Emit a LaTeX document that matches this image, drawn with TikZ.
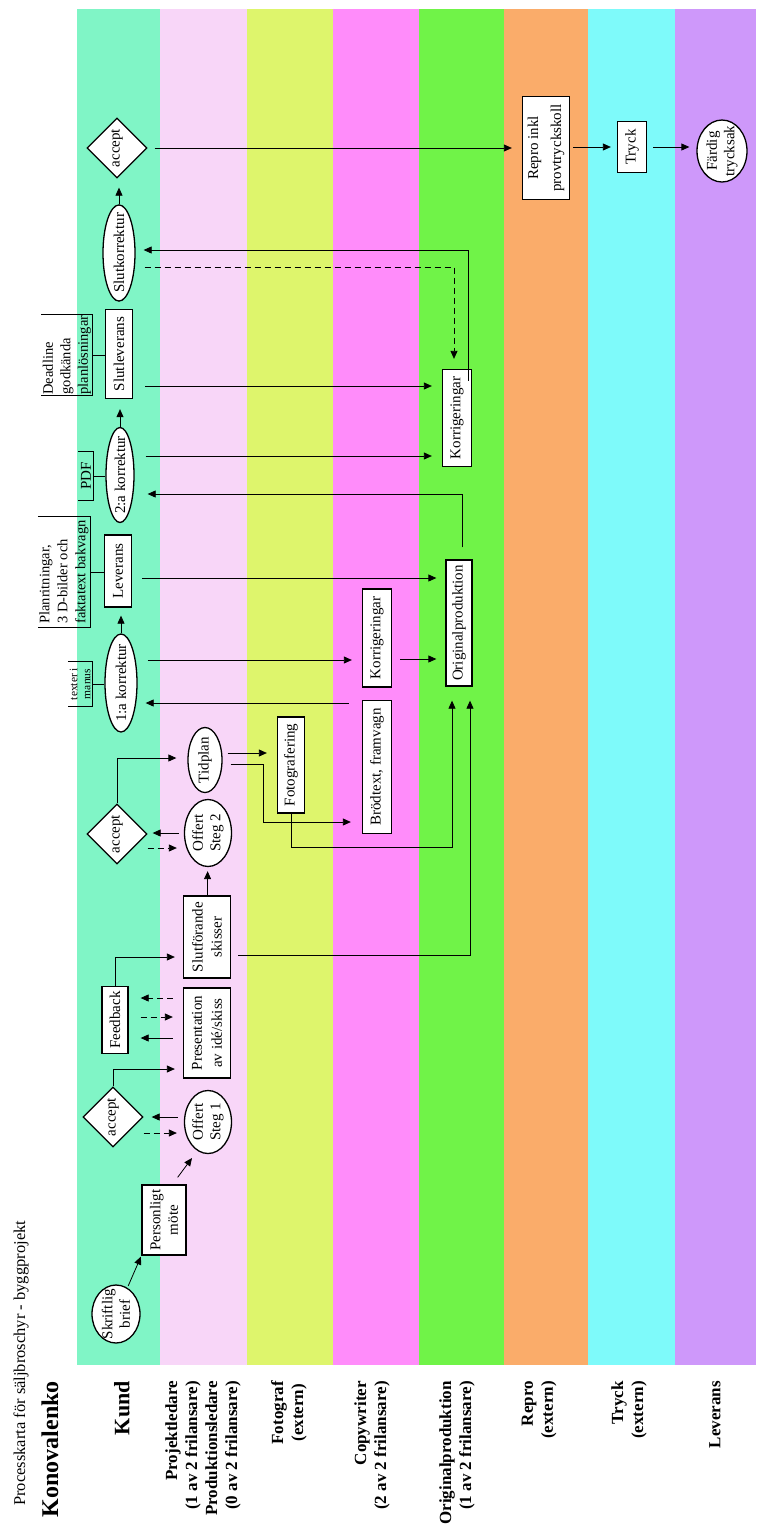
\documentclass[tikz,border=0pt]{standalone}
\usepackage{fontspec}
\setmainfont{Liberation Serif}
\usetikzlibrary{shapes.geometric, arrows.meta, calc}
\definecolor{cKund}{RGB}{128,245,198}
\definecolor{cProj}{RGB}{248,214,248}
\definecolor{cFoto}{RGB}{222,245,108}
\definecolor{cCopy}{RGB}{255,140,250}
\definecolor{cOrig}{RGB}{112,243,72}
\definecolor{cRepro}{RGB}{250,172,106}
\definecolor{cTryck}{RGB}{126,250,250}
\definecolor{cLev}{RGB}{206,152,250}
\newcommand\nodefnt{\fontsize{15}{17.5}\selectfont}
\newcommand\lanefnt{\bfseries\fontsize{17}{20}\selectfont}
\begin{document}
\begin{tikzpicture}[x=1pt,y=-1pt,
  nbox/.style={draw, line width=1.3pt, fill=white, rotate=90, inner sep=0pt, align=center, font=\nodefnt},
  nell/.style={ellipse, draw, line width=1.3pt, fill=white, rotate=90, inner sep=-6pt, align=center, font=\nodefnt},
  ndia/.style={diamond, draw, line width=1.3pt, fill=white, rotate=90, inner sep=0pt, align=center, font=\nodefnt},
  nnote/.style={rotate=90, inner sep=1pt, font=\nodefnt},
  brk/.style={line width=1pt},
  arr/.style={-{Triangle[length=8pt,width=7pt]}, line width=0.8pt},
  lnk/.style={line width=0.8pt},
  dsh/.style={dash pattern=on 6pt off 4pt},
  lanelab/.style={rotate=90, anchor=east, align=right, inner sep=0pt, font=\lanefnt},
]
\useasboundingbox (0,0) rectangle (756,1526);
\fill[white] (0,0) rectangle (756,1526);
% lanes
\fill[cKund]  (77,9)  rectangle (160,1365);
\fill[cProj]  (160,9) rectangle (247,1365);
\fill[cFoto]  (247,9) rectangle (333,1365);
\fill[cCopy]  (333,9) rectangle (419,1365);
\fill[cOrig]  (419,9) rectangle (504,1365);
\fill[cRepro] (504,9) rectangle (588,1365);
\fill[cTryck] (588,9) rectangle (675,1365);
\fill[cLev]   (675,9) rectangle (756,1365);
% titles and lane labels
\node[rotate=90, anchor=west, inner sep=0pt, font=\fontsize{16.5}{19}\selectfont] (title) at (21,1506) {Processkarta för säljbroschyr - byggprojekt};
\node[rotate=90, anchor=east, inner sep=0pt, font=\bfseries\fontsize{24}{28}\selectfont] (firm) at (50,1381) {Konovalenko};
\node[lanelab, font=\bfseries\fontsize{22}{26}\selectfont] (lKund) at (122,1381) {Kund};
\node[lanelab] (lProj) at (203,1381) {Projektledare\\(1 av 2 frilansare)\\Produktionsledare\\(0 av 2 frilansare)};
\node[lanelab, align=center] (lFoto) at (289,1381) {Fotograf\\(extern)};
\node[lanelab] (lCopy) at (372,1381) {Copywriter\\(2 av 2 frilansare)};
\node[lanelab] (lOrig) at (457,1381) {Originalproduktion\\(1 av 2 frilansare)};
\node[lanelab] (lRepro) at (539,1381) {Repro\\(extern)};
\node[lanelab] (lTryck) at (629,1381) {Tryck\\(extern)};
\node[lanelab] (lLev) at (715,1381) {Leverans};
% nodes
\node[nell, minimum width=58pt, minimum height=48pt] (brief) at (116,1314) {Skriftlig\\brief};
\node[nbox, minimum width=70pt, minimum height=44pt] (mote) at (164,1220) {Personligt\\möte};
\node[nell, minimum width=63pt, minimum height=47pt] (offert1) at (208,1122) {Offert\\Steg 1};
\node[ndia, minimum width=60pt, minimum height=60pt] (acc1) at (113,1117) {accept};
\node[nbox, minimum width=90pt, minimum height=47pt, font=\fontsize{15}{20}\selectfont] (pres) at (207,1033) {Presentation\\av idé/skiss};
\node[nbox, minimum width=67pt, minimum height=26pt] (feed) at (115,1020) {Feedback};
\node[nbox, minimum width=82pt, minimum height=47pt, font=\fontsize{15}{19}\selectfont] (slutf) at (207,937) {Slutförande\\skisser};
\node[nell, minimum width=67pt, minimum height=47pt] (offert2) at (208,833) {Offert\\Steg 2};
\node[ndia, minimum width=60pt, minimum height=60pt] (acc2) at (117,834) {accept};
\node[nell, minimum width=65pt, minimum height=34pt] (tid) at (205,760) {Tidplan};
\node[nbox, minimum width=96pt, minimum height=27pt] (foto) at (291,765) {Fotografering};
\node[nbox, minimum width=133pt, minimum height=29pt] (brod) at (377,767) {Brödtext, framvagn};
\node[nbox, minimum width=98pt, minimum height=29pt] (korr1) at (377,638) {Korrigeringar};
\node[nbox, minimum width=126pt, minimum height=26pt] (orig) at (459,623) {Originalproduktion};
\node[nell, minimum width=98pt, minimum height=32pt] (k1) at (121,683) {1:a korrektur};
\node[nbox, minimum width=72pt, minimum height=27pt] (lev) at (118,571) {Leverans};
\node[nell, minimum width=95pt, minimum height=28pt] (k2) at (120,475) {2:a korrektur};
\node[nbox, minimum width=89pt, minimum height=27pt] (slutlev) at (119,354) {Slutleverans};
\node[nbox, minimum width=97pt, minimum height=29pt] (korr2) at (457,418) {Korrigeringar};
\node[nell, minimum width=93pt, minimum height=32pt] (slutk) at (119,253) {Slutkorrektur};
\node[ndia, minimum width=60pt, minimum height=60pt] (acc3) at (117,148) {accept};
\node[nbox, minimum width=103pt, minimum height=47pt, font=\fontsize{15}{23}\selectfont] (repro) at (546,148) {Repro inkl\\provtryckskoll};
\node[nbox, minimum width=51pt, minimum height=29pt] (tryck) at (632,147) {Tryck};
\node[nell, minimum width=62pt, minimum height=50pt] (fardig) at (722,151) {Färdig\\trycksak};
% notes (brackets)
\node[nnote, align=center, font=\fontsize{11.5}{13}\selectfont, minimum width=45pt, minimum height=24pt] (texter) at (80,684) {texter i\\manus};
\node[nnote, align=left, minimum width=110pt, minimum height=52pt, font=\fontsize{14.5}{18}\selectfont] (plan) at (64,572) {Planritningar,\\3 D-bilder och\\faktatext bakvagn};
\node[nnote, align=center, minimum width=48pt, minimum height=15pt] (pdf) at (86,476) {PDF};
\node[nnote, align=left, minimum width=80pt, minimum height=51pt, font=\fontsize{14.5}{17.5}\selectfont] (deadline) at (67,355) {Deadline\\godkända\\planlösningar};
\foreach \n in {texter,plan,pdf,deadline}
  \draw[brk] (\n.north east) -- (\n.south east) -- (\n.south west) -- (\n.north west);
\draw[lnk] (texter.south) -- (k1.north |- texter.south);
\draw[lnk] (plan.south) -- (lev.north |- plan.south);
\draw[lnk] (pdf.south) -- (k2.north |- pdf.south);
\draw[lnk] (deadline.south) -- (slutlev.north |- deadline.south);
% connectors
\draw[arr, shorten <=2pt, shorten >=1pt] (brief) -- (mote.north west);
\draw[arr] ($(mote.south east)+(-9,-7)$) -- ($(offert1)+(-16,36)$);
\draw[arr, shorten <=6pt, shorten >=8pt] (offert1.north |- 0,1117) -- (acc1.south |- 0,1117);
\draw[arr, dsh, shorten >=7pt] (acc1.south |- 0,1133) -- (offert1.north |- 0,1133);
\draw[arr, shorten >=8pt] (acc1.east) |- (pres.north |- 0,1069);
\draw[arr, dsh, shorten <=10pt, shorten >=12pt] (pres.north |- 0,998) -- (feed.south |- 0,998);
\draw[arr, dsh, shorten <=12pt, shorten >=10pt] (feed.south |- 0,1017) -- (pres.north |- 0,1017);
\draw[arr, shorten <=10pt, shorten >=12pt] (pres.north |- 0,1038) -- (feed.south |- 0,1038);
\draw[arr, shorten >=8pt] (feed.east) |- (slutf.north |- 0,957);
\draw[arr, shorten >=4pt] (slutf) -- (offert2);
\draw[arr, shorten <=7pt, shorten >=14pt] (slutf.south |- 0,955) -| ($(orig.west)+(11,0)$);
\draw[arr, shorten <=5pt, shorten >=5pt] (offert2.north |- 0,833) -- (acc2.south |- 0,833);
\draw[arr, dsh, shorten >=7pt] (acc2.south |- 0,848) -- (offert2.north |- 0,848);
\draw[arr, shorten >=11pt] (acc2.east) |- (tid.north |- 0,758);
\draw[arr, shorten <=5pt, shorten >=10pt] (tid.south |- 0,753) -- (foto.north |- 0,753);
\draw[arr, shorten <=8pt, shorten >=11pt] (tid.south |- 0,764) -| (263,822) -- (brod.north |- 0,822);
\draw[arr, shorten >=14pt] (foto.west) |- (452,847) -- ($(orig.west)+(-7,0)$);
\draw[arr, shorten <=10pt, shorten >=10pt] (k1.south |- 0,660) -- (korr1.north |- 0,660);
\draw[arr, shorten <=13pt, shorten >=8pt] (brod.north |- 0,703) -- (k1.south |- 0,703);
\draw[arr, shorten <=8pt, shorten >=9pt] (korr1.south |- 0,659) -- (orig.north |- 0,659);
\draw[arr, shorten >=8pt] (k1.east) -- (k1.east |- lev.west);
\draw[arr, shorten <=10pt, shorten >=9pt] (lev.south |- 0,578) -- (orig.north |- 0,578);
\draw[arr, shorten <=12pt, shorten >=13pt] ($(orig.east)+(3,0)$) |- (k2.south |- 0,494);
\draw[arr, shorten <=11pt, shorten >=10pt] (k2.south |- 0,456) -- (korr2.north |- 0,456);
\draw[arr, shorten >=10pt] (k2.east) -- (k2.east |- slutlev.west);
\draw[arr, shorten <=12pt, shorten >=10pt] (slutlev.south |- 0,386) -- (korr2.north |- 0,386);
\draw[arr, shorten <=-12pt, shorten >=8pt] ($(korr2.east)+(11,0)$) |- (slutk.south |- 0,250);
\draw[arr, dsh, shorten <=9pt, shorten >=10pt] (slutk.south |- 0,267) -| ($(korr2.east)+(-3,0)$);
\draw[arr, shorten >=9pt] (slutk.east) -- (slutk.east |- acc3.west);
\draw[arr, shorten <=7pt, shorten >=10pt] (acc3.south) -- (repro.north |- acc3.south);
\draw[arr, shorten <=3pt, shorten >=6pt] (repro.south |- 0,147) -- (tryck.north |- 0,147);
\draw[arr, shorten <=6pt, shorten >=7pt] (tryck.south |- 0,147) -- (fardig.north |- 0,147);
\end{tikzpicture}
\end{document}
